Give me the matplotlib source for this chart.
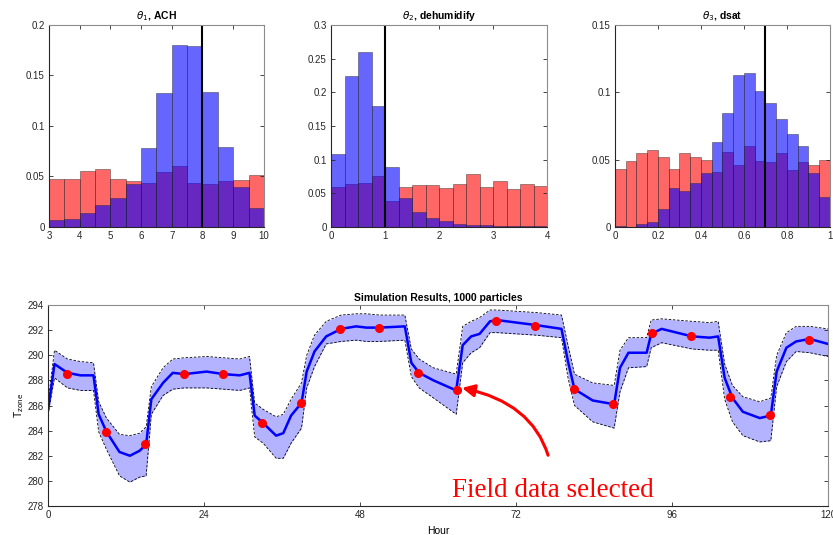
import matplotlib
matplotlib.use("Agg")
import matplotlib.pyplot as plt
import numpy as np

plt.rcParams['font.family'] = ['Liberation Sans', 'DejaVu Sans']
plt.rcParams['mathtext.fontset'] = 'dejavusans'

# ---- histogram data (prior = red, posterior = blue) ----
ach_edges = np.arange(3.0, 10.01, 0.5)
ach_prior = [0.048, 0.048, 0.055, 0.057, 0.048, 0.046, 0.044,
             0.054, 0.060, 0.044, 0.043, 0.046, 0.047, 0.051]
ach_post = [0.007, 0.008, 0.014, 0.022, 0.029, 0.043, 0.078,
            0.133, 0.180, 0.179, 0.134, 0.079, 0.040, 0.019]
ach_true = 8.0

dehum_edges = np.arange(0.0, 4.01, 0.25)
dehum_prior = [0.060, 0.064, 0.066, 0.076, 0.038, 0.060, 0.062, 0.063,
               0.058, 0.064, 0.078, 0.059, 0.069, 0.056, 0.064, 0.061]
dehum_post = [0.108, 0.224, 0.260, 0.180, 0.089, 0.043, 0.022, 0.013,
              0.009, 0.005, 0.003, 0.003, 0.001, 0.001, 0.001, 0.001]
dehum_true = 1.0

dsat_edges = np.arange(0.0, 1.001, 0.05)
dsat_prior = [0.043, 0.049, 0.055, 0.057, 0.052, 0.043, 0.055, 0.052, 0.050, 0.041,
              0.056, 0.046, 0.060, 0.049, 0.048, 0.055, 0.042, 0.048, 0.046, 0.050]
dsat_post = [0.001, 0.000, 0.002, 0.004, 0.013, 0.029, 0.027, 0.033, 0.040, 0.063,
             0.085, 0.113, 0.114, 0.101, 0.092, 0.080, 0.069, 0.060, 0.040, 0.022]
dsat_true = 0.7

# ---- simulation results ----
hours = [0, 1.0, 3.0, 5.0, 7.0, 7.8, 9.0, 11.0, 12.6, 14.1, 15.1, 15.9, 17.7, 19.2,
         21.0, 24.4, 27.0, 29.5, 31.0, 31.8, 33.1, 35.1, 36.2, 37.4, 39.0, 39.8,
         41.0, 42.8, 45.1, 47.4, 49.0, 51.0, 54.9, 55.9, 57.1, 59.3, 62.8, 63.8,
         65.1, 66.4, 68.0, 69.1, 75.1, 79.0, 80.0, 81.0, 83.8, 87.1, 88.0, 89.3,
         92.1, 92.8, 94.4, 99.1, 101.8, 103.1, 104.1, 105.3, 106.9, 109.5, 111.2,
         112.1, 113.6, 115.1, 117.2, 120.0]
t_mean = [285.6, 289.3, 288.6, 288.4, 288.4, 285.3, 283.9, 282.3, 282.0, 282.4, 282.9,
          286.5, 287.8, 288.6, 288.5, 288.7, 288.5, 288.4, 288.6, 285.2, 284.6, 283.6,
          283.8, 285.2, 286.2, 288.7, 290.3, 291.5, 292.1, 292.3, 292.2, 292.2, 292.3,
          289.4, 288.6, 288.0, 287.2, 290.8, 291.5, 291.7, 292.7, 292.8, 292.4, 292.1,
          289.5, 287.3, 286.4, 286.1, 289.0, 290.2, 290.2, 291.7, 292.1, 291.5, 291.4,
          291.5, 288.2, 286.6, 285.5, 285.0, 285.2, 288.7, 290.6, 291.1, 291.3, 290.9]
t_upper = [286.2, 290.4, 289.7, 289.5, 289.4, 286.3, 285.0, 283.7, 283.6, 283.8, 284.3,
           287.5, 289.0, 289.7, 289.8, 289.9, 289.8, 289.7, 289.9, 286.2, 285.7, 285.1,
           285.3, 286.5, 287.8, 290.0, 291.6, 292.7, 293.2, 293.3, 293.3, 293.2, 293.2,
           290.5, 289.7, 289.0, 288.5, 292.3, 292.7, 293.0, 293.6, 293.6, 293.4, 293.2,
           290.8, 288.5, 287.8, 287.6, 290.4, 291.4, 291.4, 292.8, 292.9, 292.7, 292.6,
           292.7, 289.3, 287.6, 286.7, 286.3, 286.6, 290.0, 291.8, 292.3, 292.3, 292.1]
t_lower = [285.3, 288.2, 287.4, 287.2, 287.2, 283.9, 282.5, 280.4, 279.9, 280.3, 280.4,
           285.3, 286.8, 287.3, 287.4, 287.4, 287.3, 287.2, 287.4, 283.5, 283.0, 281.8,
           281.8, 283.0, 284.2, 287.4, 289.1, 290.9, 291.1, 291.2, 291.1, 291.1, 291.2,
           288.3, 287.4, 286.6, 285.3, 289.4, 290.2, 290.6, 291.8, 291.8, 291.6, 291.4,
           288.2, 286.0, 284.7, 284.2, 287.1, 289.0, 289.1, 290.6, 291.0, 290.5, 290.4,
           290.4, 286.5, 284.7, 283.6, 283.1, 283.2, 287.5, 289.5, 290.3, 290.2, 289.9]

field_hours = [3, 9, 15, 21, 27, 33, 39, 45, 51, 57, 63, 69, 75, 81, 87, 93, 99, 105, 111, 117]
field_temp = [288.5, 283.9, 282.9, 288.5, 288.5, 284.6, 286.2, 292.1, 292.2, 288.6,
              287.2, 292.75, 292.35, 287.3, 286.1, 291.75, 291.5, 286.65, 285.25, 291.25]

RED = (1.0, 0.0, 0.0)
BLUE = (0.0, 0.0, 1.0)


def style_axes(ax):
    ax.tick_params(direction="in", length=3, width=0.6, labelsize=7,
                   top=True, right=True, colors="#262626", pad=3)
    for s in ["left", "bottom"]:
        ax.spines[s].set_color("#262626")
        ax.spines[s].set_linewidth(0.8)
    for s in ["top", "right"]:
        ax.spines[s].set_color("#8c8c8c")
        ax.spines[s].set_linewidth(0.8)


def draw_hist(ax, edges, prior, post, truth, title, xticks, yticks):
    left = edges[:-1]
    width = edges[1] - edges[0]
    ax.bar(left, prior, width=width, align="edge", color=RED, alpha=0.6,
           edgecolor=(0.15, 0.15, 0.15, 0.7), linewidth=0.5)
    ax.bar(left, post, width=width, align="edge", color=BLUE, alpha=0.6,
           edgecolor=(0.15, 0.15, 0.15, 0.7), linewidth=0.5)
    ax.axvline(truth, color="black", lw=1.5)
    ax.set_xlim(edges[0], edges[-1])
    ax.set_ylim(yticks[0], yticks[-1])
    ax.set_xticks(xticks)
    ax.set_yticks(yticks)
    ax.set_xticklabels([f"{v:g}" for v in xticks])
    ax.set_yticklabels([f"{v:g}" for v in yticks])
    ax.set_title(title, fontsize=7.5, fontweight="bold", pad=4)
    style_axes(ax)


fig = plt.figure(figsize=(8.33, 5.35), dpi=100)

ax1 = fig.add_axes([0.0588, 0.5757, 0.258, 0.3776])
ax2 = fig.add_axes([0.3974, 0.5757, 0.2593, 0.3776])
ax3 = fig.add_axes([0.7383, 0.5757, 0.258, 0.3776])

draw_hist(ax1, ach_edges, ach_prior, ach_post, ach_true, r"$\theta_1$, ACH",
          [3, 4, 5, 6, 7, 8, 9, 10], [0, 0.05, 0.1, 0.15, 0.2])
draw_hist(ax2, dehum_edges, dehum_prior, dehum_post, dehum_true, r"$\theta_2$, dehumidify",
          [0, 1, 2, 3, 4], [0, 0.05, 0.1, 0.15, 0.2, 0.25, 0.3])
draw_hist(ax3, dsat_edges, dsat_prior, dsat_post, dsat_true, r"$\theta_3$, dsat",
          [0, 0.2, 0.4, 0.6, 0.8, 1], [0, 0.05, 0.1, 0.15])

ax = fig.add_axes([0.0576, 0.0542, 0.9364, 0.3757])
ax.fill_between(hours, t_lower, t_upper, color="#b3b3ff", lw=0)
ax.plot(hours, t_upper, color="black", lw=0.6, ls=(0, (3, 2)))
ax.plot(hours, t_lower, color="black", lw=0.6, ls=(0, (3, 2)))
ax.plot(hours, t_mean, color="#0000ff", lw=1.8)
ax.plot(field_hours, field_temp, "o", color="#ff0000", ms=5.5, mec="#ff0000")
ax.set_xlim(0, 120)
ax.set_ylim(278, 294)
ax.set_xticks([0, 24, 48, 72, 96, 120])
ax.set_yticks(np.arange(278, 295, 2))
ax.set_title("Simulation Results, 1000 particles", fontsize=7.5, fontweight="bold", pad=3)
ax.set_xlabel("Hour", fontsize=7.5, labelpad=4)
ax.set_ylabel(r"T$_{\mathrm{zone}}$", fontsize=7.5, labelpad=1)
style_axes(ax)

ax.annotate("Field data selected", xy=(63.7, 287.4), xytext=(77.7, 279.2),
            ha="center", va="center", color="#ff0000", fontsize=19.5,
            family=["Liberation Serif", "DejaVu Serif"], annotation_clip=False,
            arrowprops=dict(arrowstyle="-|>", color="#ff0000", lw=2.2,
                            mutation_scale=18, shrinkA=15, shrinkB=0,
                            connectionstyle="angle3,angleA=90,angleB=-12"))

fig.savefig("out.png", dpi=100)
